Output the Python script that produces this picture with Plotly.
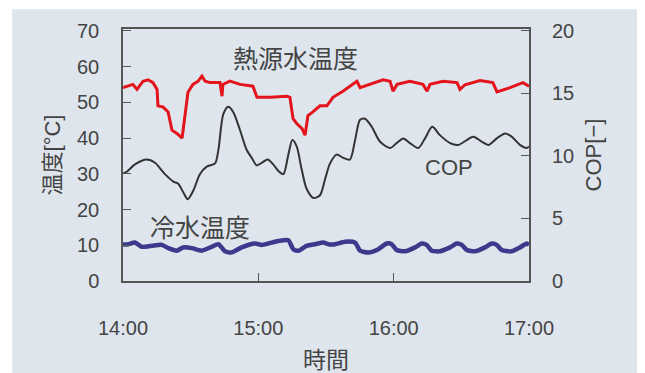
import plotly.graph_objects as go

# time in minutes after 14:00
heat_t = [0, 4.4, 6.2, 8.9, 11.1, 13.3, 15.1, 15.5, 17.7, 20, 21.7, 23.9, 26.2, 27.5, 28.8, 31, 33.3, 35, 36.4, 38.6,
          43, 43.9, 44.3, 47.4, 51.9, 57.6, 59.4, 65.2, 72.7, 74, 75.4, 77.1, 79.4, 80.7, 82, 84.2, 87.3, 90.4, 93.1,
          97.5, 101.9, 103.7, 105.1, 109.5, 115.3, 118.4, 119.7, 121.5, 127.2, 133, 134.8, 136.1, 141.9, 148.1, 149.4,
          151.6, 158.3, 164, 165.8, 171.6, 177.3, 180]
heat_v = [54.1, 55, 53.6, 55.9, 56.3, 55.5, 53.6, 49, 48.7, 47.3, 42.2, 41.3, 40, 46.3, 52.8, 55, 55.9, 57.3, 55.9, 55.5,
          55.5, 51.7, 55, 55.9, 55, 54.5, 51.4, 51.4, 51.7, 51.4, 45.4, 44, 42.6, 40.8, 46.3, 47.3, 49, 49, 51.4,
          53.1, 55, 55.9, 54.1, 55, 56.3, 55.9, 53.1, 55, 55.9, 55, 53.1, 55, 55.9, 55.5, 53.6,
          54.9, 56.1, 55.5, 52.9, 54.1, 55.5, 54.5]

cop_t = [0, 1.6, 5.3, 10.5, 14.2, 18.6, 22.3, 24.5, 26.7, 28.7, 31.2, 34.1, 37.1, 40.8, 42.3, 44.5, 46.7, 48.9, 51.9,
         54.8, 57.1, 59.3, 61.5, 64.2, 66.6, 68.9, 71.1, 73.3, 75.1, 77, 79.2, 81.4, 84.4, 87.3, 89.6, 91.8, 94.7,
         97.7, 100.6, 102.9, 105.1, 107.3, 110.3, 113.9, 118.4, 121.3, 124.3, 127.2, 130.9, 133.9, 137.1, 140.5, 145,
         148.7, 152.4, 155.3, 159, 162, 165.7, 169.4, 172.3, 176, 179, 180]
cop_v = [8.6, 8.73, 9.32, 9.71, 9.45, 8.54, 7.95, 7.77, 7.1, 6.54, 7.24, 8.54, 9.14, 9.4, 10.5, 13.36, 13.93, 13.49, 12.05,
         10.49, 9.84, 9.24, 9.45, 9.71, 9.32, 8.8, 8.54, 10.1, 11.27, 10.76, 8.93, 7.37, 6.64, 6.85, 8.15, 9.4, 10.1,
         9.84, 9.71, 11.27, 12.89, 12.97, 12.32, 11.15, 10.63, 11.02, 11.4, 11.02, 10.63, 11.4, 12.32, 11.66, 11.02,
         10.88, 11.27, 11.54, 11.15, 10.88, 11.4, 11.8, 11.54, 10.88, 10.63, 10.76]

cold_t = [0, 2.3, 5.3, 8.3, 12.7, 17.2, 20.1, 23.8, 26.7, 30.5, 34.9, 39.3, 42.3, 45.2, 48.2, 52.6, 58.5, 61.5, 64.4,
          68.9, 73.3, 75.5, 77.7, 81.4, 85.1, 88.8, 91, 94, 98.4, 102.9, 105.1, 108.8, 113.2, 116.9, 119.1, 121.3, 125,
          129.5, 132.4, 134.6, 136.9, 140.5, 145, 147.9, 150.2, 152.4, 156.1, 160.5, 163.5, 165.7, 167.9, 172.3, 176,
          179, 180]
cold_v = [10.2, 10.3, 10.75, 9.57, 9.84, 10.1, 9.2, 8.48, 9.38, 9.2, 8.48, 9.57, 10.3, 8.3, 8.0, 9.38, 10.48, 10.1, 10.48,
          11.2, 11.4, 8.9, 8.48, 9.84, 10.3, 10.75, 10.3, 10.3, 11.0, 10.75, 8.48, 8.0, 8.9, 10.48, 10.3, 8.67, 8.3,
          9.4, 10.48, 10.1, 8.48, 8.3, 9.4, 10.48, 10.1, 8.67, 8.3, 9.4, 10.48, 10.1, 8.67, 8.3, 9.4,
          10.48, 10.1]

x_tickvals = [0, 60, 120, 180]
x_ticktext = ["14:00", "15:00", "16:00", "17:00"]
temp_ticks = [0, 10, 20, 30, 40, 50, 60, 70]
cop_ticks = [0, 5, 10, 15, 20]

FONT = "Liberation Sans, Arial, Noto Sans CJK JP"
TXT = "#444444"
AX = "#555555"

fig = go.Figure()
fig.add_trace(go.Scatter(x=cop_t, y=cop_v, yaxis="y2", mode="lines",
                         line=dict(color="#333333", width=2, shape="spline", smoothing=0.8)))
fig.add_trace(go.Scatter(x=cold_t, y=cold_v, mode="lines",
                         line=dict(color="#3b3a8c", width=4.5, shape="spline", smoothing=0.6)))
fig.add_trace(go.Scatter(x=heat_t, y=heat_v, mode="lines",
                         line=dict(color="#e3141c", width=3)))

for txt, ax_, ay_, sz in [("熱源水温度", 0.424, 0.88, 25), ("COP", 0.803, 0.45, 22), ("冷水温度", 0.19, 0.209, 25)]:
    fig.add_annotation(x=ax_, y=ay_, xref="paper", yref="paper", text=txt, showarrow=False,
                       xanchor="center", yanchor="middle",
                       font=dict(size=sz, color=TXT, family=FONT))

fig.add_shape(type="rect", xref="paper", yref="paper", x0=-0.273, x1=1.268, y0=-0.4, y1=1.078,
              fillcolor="#dfe5ed", line=dict(width=0), layer="below")

fig.update_layout(
    width=645, height=373,
    margin=dict(l=115, r=124, t=20, b=95),
    paper_bgcolor="white", plot_bgcolor="white",
    showlegend=False,
    font=dict(family=FONT, color=TXT, size=20),
    xaxis=dict(range=[0, 180], tickvals=x_tickvals, ticktext=x_ticktext, ticks="inside", ticklen=8,
               tickcolor=AX, showline=True, linecolor=AX, linewidth=1.5, mirror=True, showgrid=False,
               zeroline=False, ticklabelstandoff=28, tickfont=dict(size=20, color=TXT),
               title=dict(text="時間", font=dict(size=23, color=TXT), standoff=14)),
    yaxis=dict(range=[0, 70.5], tickvals=temp_ticks, ticks="inside", ticklen=8, tickcolor=AX,
               showline=True, linecolor=AX, linewidth=1.5, mirror=True, showgrid=False, zeroline=False,
               ticklabelstandoff=18, tickfont=dict(size=20, color=TXT),
               title=dict(text="温度[°C]", font=dict(size=22, color=TXT), standoff=10)),
    yaxis2=dict(range=[0, 20.143], tickvals=cop_ticks, overlaying="y", side="right", ticks="inside",
                ticklen=8, tickcolor=AX, showline=False, showgrid=False, zeroline=False,
                ticklabelstandoff=22, tickfont=dict(size=20, color=TXT),
                title=dict(text="COP[−]", font=dict(size=22, color=TXT), standoff=12)),
)

fig.write_html("out.html")
